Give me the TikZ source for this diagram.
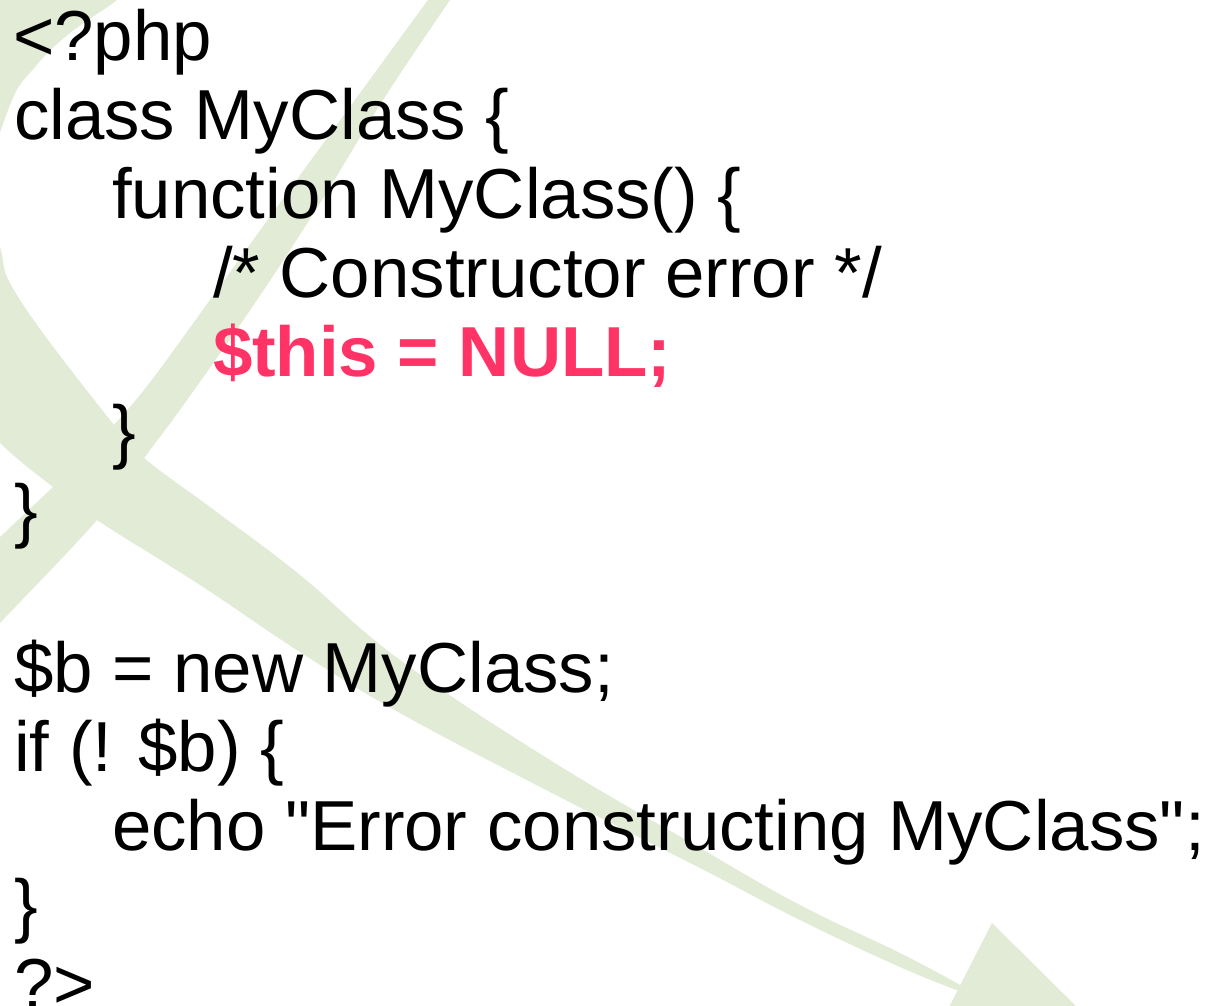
\documentclass[tikz,border=0pt]{standalone}
\usepackage{fontspec}
\setmainfont[Ligatures=TeXOff]{Liberation Sans}
\definecolor{leaf}{HTML}{E2EBD5}
\definecolor{hot}{HTML}{FF3366}
\tikzset{
  code/.style={anchor=base west, inner sep=0pt, outer sep=0pt,
    font=\fontsize{70.8}{79}\selectfont, text=black},
  hotcode/.style={code, font=\fontsize{70.8}{79}\selectfont\bfseries, text=hot},
  swoosh/.style={fill=leaf, draw=none}
}
\begin{document}
\begin{tikzpicture}[x=1pt, y=-1pt]
\useasboundingbox (0,0) rectangle (1209,1005);
\clip (0,0) rectangle (1209,1005);
\fill[white] (0,0) rectangle (1209,1005);

% big curved swoosh sweeping round the left edge towards the lower right
\fill[swoosh] plot[smooth, tension=0.7] coordinates {(128,-15) (117,0) (70,33) (35,67) (10,105) (-12,187) (0,247) (20,300) (110,420) (143,457) (214,510) (300,575) (400,660) (550,760) (700,848) (800,905) (900,953) (962,986)}
  -- plot[smooth, tension=0.7] coordinates {(962,992) (900,967) (800,920) (700,868) (550,792) (400,713) (300,652) (200,585) (97,520) (53,487) (0,443) (-60,380)}
  -- (-80,-15) -- cycle;

% straight stroke crossing it from the top
\fill[swoosh] plot[smooth, tension=0.6] coordinates {(440,-15) (428,0) (355,100) (282,200) (210,300) (140,395) (85,455) (53,487) (0,537) (-20,556)}
  -- plot[smooth, tension=0.6] coordinates {(-20,645) (0,623) (97,520) (150,450) (187,400) (257,300) (322,200) (383,100) (450,0) (462,-15)}
  -- cycle;

% arrow head
\fill[swoosh] (992,923) -- (1085,1015) -- (945,1015) -- cycle;

% PHP source
\node[code]    (l1)  at (13,60)   {<?php};
\node[code]    (l2)  at (14,139)  {class MyClass \{};
\node[code]    (l3)  at (112,218) {function MyClass() \{};
\node[code]    (l4)  at (213,297) {/* Constructor error */};
\node[hotcode] (l5)  at (213,376) {\$this = NULL;};
\node[code]    (l6)  at (112,455) {\}};
\node[code]    (l7)  at (14,534)  {\}};
\node[code]    (l9)  at (14,692)  {\$b = new MyClass;};
\node[code]    (l10) at (14,771)  {if (! \$b) \{};
\node[code]    (l11) at (112,850) {echo "Error constructing MyClass";};
\node[code]    (l12) at (14,929)  {\}};
\node[code]    (l13) at (14,1008) {?>};
\end{tikzpicture}
\end{document}
